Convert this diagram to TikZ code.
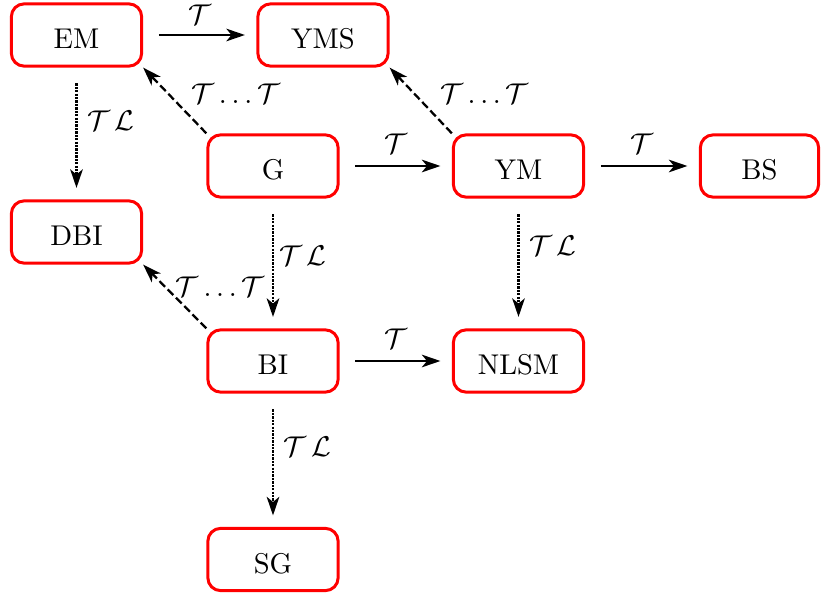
\documentclass[tikz,border=0pt]{standalone}
\usepackage{tikz}
\usetikzlibrary{arrows.meta}
\tikzset{
	box/.style={draw=red, line width=1.05pt, rounded corners=4.5pt, minimum width=45.6pt, minimum height=21.8pt, text height=9.5pt, text depth=0pt},
	arr/.style={-{Stealth[length=6.5pt,width=4.4pt,inset=1.8pt]}, line width=0.8pt},
	solidarr/.style={arr, shorten <=5.5pt, shorten >=4pt},
	dotarr/.style={solidarr, dash pattern=on 0.8pt off 0.4pt},
	dasharr/.style={arr, dash pattern=on 2.8pt off 1.3pt},
}
\begin{document}
\begin{tikzpicture}[x=0.35pt, y=-0.35pt]
		%%%%% START %%%%%
		\useasboundingbox (0, 0) rectangle (821, 598);
		
		\node[box] (em) at (76.5, 35) {EM};
		\node[box] (yms) at (323, 35) {YMS};
		\node[box] (g) at (273, 166) {G};
		\node[box] (ym) at (518.5, 166) {YM};
		\node[box, minimum width=41.4pt] (bs) at (759.5, 166) {BS};
		\node[box] (dbi) at (76.5, 232) {DBI};
		\node[box] (bi) at (273, 361) {BI};
		\node[box] (nlsm) at (518.5, 361) {NLSM};
		\node[box] (sg) at (273, 559.5) {SG};
		
		\draw[solidarr] (em) -- node[above=0pt] {$\mathcal{T}$} (yms);
		\draw[solidarr] (g) -- node[above=0.5pt] {$\mathcal{T}$} (ym);
		\draw[solidarr] (ym) -- node[above=0.5pt] {$\mathcal{T}$} (bs);
		\draw[solidarr] (bi) -- node[above=0.5pt] {$\mathcal{T}$} (nlsm);
		
		\draw[dotarr] (em) -- node[pos=.4, right] {$\mathcal{T}\,\mathcal{L}$} (dbi);
		\draw[dotarr] (g) -- node[pos=.44, right=-1.5pt] {$\mathcal{T}\,\mathcal{L}$} (bi);
		\draw[dotarr] (ym) -- node[pos=.36, right] {$\mathcal{T}\,\mathcal{L}$} (nlsm);
		\draw[dotarr] (bi) -- node[pos=.4, right] {$\mathcal{T}\,\mathcal{L}$} (sg);
		
		\draw[dasharr] (g.north west) -- node[pos=.6, right=4.3pt] {$\mathcal{T}\ldots\mathcal{T}$} (em.south east);
		\draw[dasharr] (ym.north west) -- node[pos=.6, right=5.2pt] {$\mathcal{T}\ldots\mathcal{T}$} (yms.south east);
		\draw[dasharr] (bi.north west) -- node[pos=.65, right] {$\mathcal{T}\ldots\mathcal{T}$} (dbi.south east);
		
		%%%%% END %%%%%
	\end{tikzpicture}
\end{document}
